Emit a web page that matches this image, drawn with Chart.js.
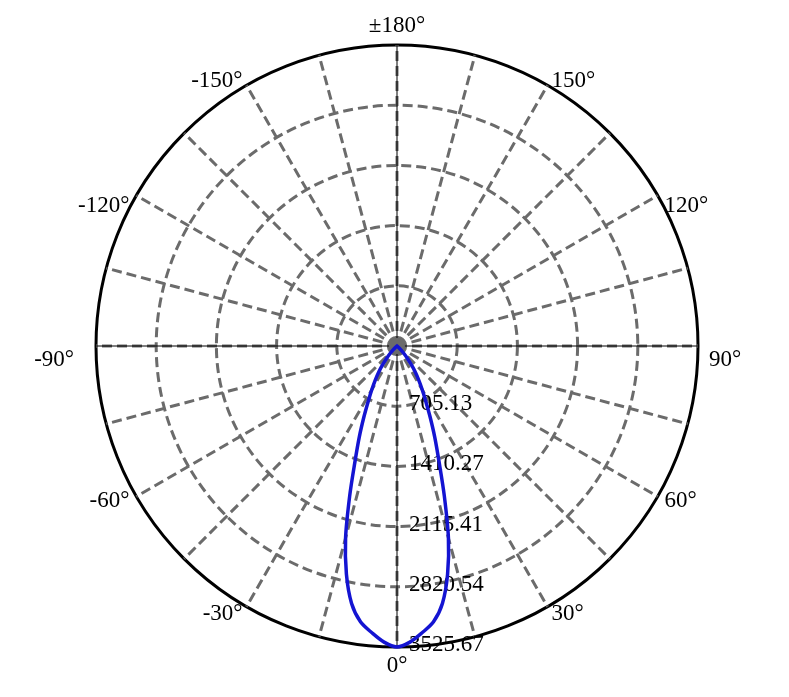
<!DOCTYPE html>
<html>
<head>
<meta charset="utf-8">
<title>polar intensity</title>
<script src="https://cdn.jsdelivr.net/npm/chart.js@4.4.1/dist/chart.umd.min.js"></script>
<style>
  html, body { margin: 0; padding: 0; background: #ffffff; }
  #wrap { width: 789px; height: 697px; }
</style>
</head>
<body>
<div id="wrap"><canvas id="id_polar"></canvas></div>
<script>
// angle categories in degrees, clockwise from the top (±180 at top, 0 at bottom)
var POLAR_ANGLES = [
    180, 177.5, 175, 172.5, 170, 167.5, 165, 162.5, 160, 157.5,
    155, 152.5, 150, 147.5, 145, 142.5, 140, 137.5, 135, 132.5,
    130, 127.5, 125, 122.5, 120, 117.5, 115, 112.5, 110, 107.5,
    105, 102.5, 100, 97.5, 95, 92.5, 90, 87.5, 85, 82.5,
    80, 77.5, 75, 72.5, 70, 67.5, 65, 62.5, 60, 57.5,
    55, 52.5, 50, 47.5, 45, 42.5, 40, 37.5, 35, 32.5,
    30, 27.5, 25, 22.5, 20, 17.5, 15, 12.5, 10, 7.5,
    5, 2.5, 0, -2.5, -5, -7.5, -10, -12.5, -15, -17.5,
    -20, -22.5, -25, -27.5, -30, -32.5, -35, -37.5, -40, -42.5,
    -45, -47.5, -50, -52.5, -55, -57.5, -60, -62.5, -65, -67.5,
    -70, -72.5, -75, -77.5, -80, -82.5, -85, -87.5, -90, -92.5,
    -95, -97.5, -100, -102.5, -105, -107.5, -110, -112.5, -115, -117.5,
    -120, -122.5, -125, -127.5, -130, -132.5, -135, -137.5, -140, -142.5,
    -145, -147.5, -150, -152.5, -155, -157.5, -160, -162.5, -165, -167.5,
    -170, -172.5, -175, -177.5
];

var BEAM_ANGLES = [
    -52.5, -50, -47.5, -45, -42.5, -40, -37.5, -35, -32.5, -30,
    -27.5, -25, -22.5, -20, -17.5, -15, -12.5, -10, -7.5, -5, -2.5,
    0,
    2.5, 5, 7.5, 10, 12.5, 15, 17.5, 20, 22.5, 25, 27.5,
    30, 32.5, 35, 37.5, 40, 42.5, 45, 47.5, 50, 52.5
];
var BEAM_VALUES = [
    0, 10, 30, 65, 120, 190, 276, 375, 474, 589,
    729, 918, 1155, 1438, 1844, 2327, 2738, 3063, 3262, 3372, 3472,
    3525.67,
    3472, 3372, 3262, 3063, 2738, 2327, 1844, 1438, 1155, 918, 729,
    589, 474, 375, 276, 190, 120, 65, 30, 10, 0
];

// ring ticks
var RING_VALUES = [0, 705.13, 1410.27, 2115.41, 2820.54, 3525.67];
var RING_LABELS = ['', '705.13', '1410.27', '2115.41', '2820.54', '3525.67'];

var GRID_GRAY  = '#6b6b6b';
var LINE_BLUE  = '#1414d2';
var LABEL_FONT = '23px "Liberation Serif", "DejaVu Serif", serif';
var LAST_RING  = RING_VALUES.length - 1;

var intensity = POLAR_ANGLES.map(function( a ){
    var k = BEAM_ANGLES.indexOf( a );
    return k < 0 ? 0 : BEAM_VALUES[k];
});

var _angleText = function( a ){
    return a === 180 ? '\u00b1180\u00b0' : a + '\u00b0';
};

// the side labels sit a little lower near the horizontal, like the original
var _labelDrop = function( a ){
    var m = Math.abs( a );
    if( m === 90 || m === 120 ) return 14;
    if( m === 150 ) return 3;
    return 0;
};

// axes, center dot, ring labels and angle labels (under the curve)
var polarDecor = {
    id: 'polarDecor',
    beforeDatasetsDraw: function( chart ){
        var s = chart.scales.r, ctx = chart.ctx;
        var cx = s.xCenter, cy = s.yCenter, R = s.drawingArea;
        ctx.save();

        ctx.strokeStyle = '#000000';
        ctx.lineWidth = 1;
        POLAR_ANGLES.forEach(function( a, i ){
            if( a % 90 !== 0 ) return;
            var p = s.getPointPosition( i, R );
            ctx.beginPath();
            ctx.moveTo( cx, cy );
            ctx.lineTo( p.x, p.y );
            ctx.stroke();
        });

        ctx.fillStyle = GRID_GRAY;
        ctx.beginPath();
        ctx.arc( cx, cy, 8, 0, Math.PI * 2 );
        ctx.fill();

        ctx.fillStyle = '#000000';
        ctx.font = LABEL_FONT;
        ctx.textAlign = 'left';
        ctx.textBaseline = 'middle';
        RING_VALUES.forEach(function( v, i ){
            if( i === 0 ) return;
            ctx.fillText( RING_LABELS[i], cx + 12, cy + s.getDistanceFromCenterForValue( v ) - 2 );
        });

        POLAR_ANGLES.forEach(function( a, i ){
            if( a % 30 !== 0 ) return;
            var e = s.getPointPosition( i, R );
            var ux = ( e.x - cx ) / R;
            var p, gap;
            if( Math.abs( ux ) < 0.01 ){
                p = s.getPointPosition( i, R + 19 );
                ctx.textAlign = 'center';
            }else{
                gap = 8;
                if( Math.abs( ux ) > 0.99 ) gap = ux > 0 ? 11 : 22;
                p = s.getPointPosition( i, R + gap );
                p = { x: p.x, y: p.y + _labelDrop( a ) };
                ctx.textAlign = ux > 0 ? 'left' : 'right';
            }
            ctx.fillText( _angleText( a ), p.x, p.y );
        });

        ctx.restore();
    }
};

var ctx = document.getElementById('id_polar').getContext('2d');
var polarChart = new Chart(ctx, {
    type: 'radar',
    data: {
        labels: POLAR_ANGLES,
        datasets: [
            {
                label: 'intensity',
                data: intensity,
                borderColor: LINE_BLUE,
                borderWidth: 3.5,
                pointRadius: 0,
                fill: false,
                tension: 0.3,
                capBezierPoints: false
            }
        ]
    },
    options: {
        responsive: true,
        maintainAspectRatio: false,
        animation: false,
        events: [],
        layout: { padding: { top: 45, bottom: 49, left: 96, right: 91 } },
        plugins: {
            legend: { display: false },
            tooltip: { enabled: false }
        },
        scales: {
            r: {
                min: 0,
                max: 3525.67,
                startAngle: 0,
                afterBuildTicks: function( scale ){
                    scale.ticks = RING_VALUES.map(function( v ){ return { value: v }; });
                },
                ticks: { display: false },
                pointLabels: { display: false },
                grid: {
                    circular: true,
                    color: function( c ){ return c.index === LAST_RING ? '#000000' : GRID_GRAY; },
                    lineWidth: 3
                },
                border: {
                    dash: function( c ){ return c.index === LAST_RING ? [] : [10, 5]; }
                },
                angleLines: {
                    color: GRID_GRAY,
                    lineWidth: function( c ){ return POLAR_ANGLES[c.index] % 15 === 0 ? 3 : 0; },
                    borderDash: [10, 5]
                }
            }
        }
    },
    plugins: [ polarDecor ]
});
</script>
</body>
</html>
